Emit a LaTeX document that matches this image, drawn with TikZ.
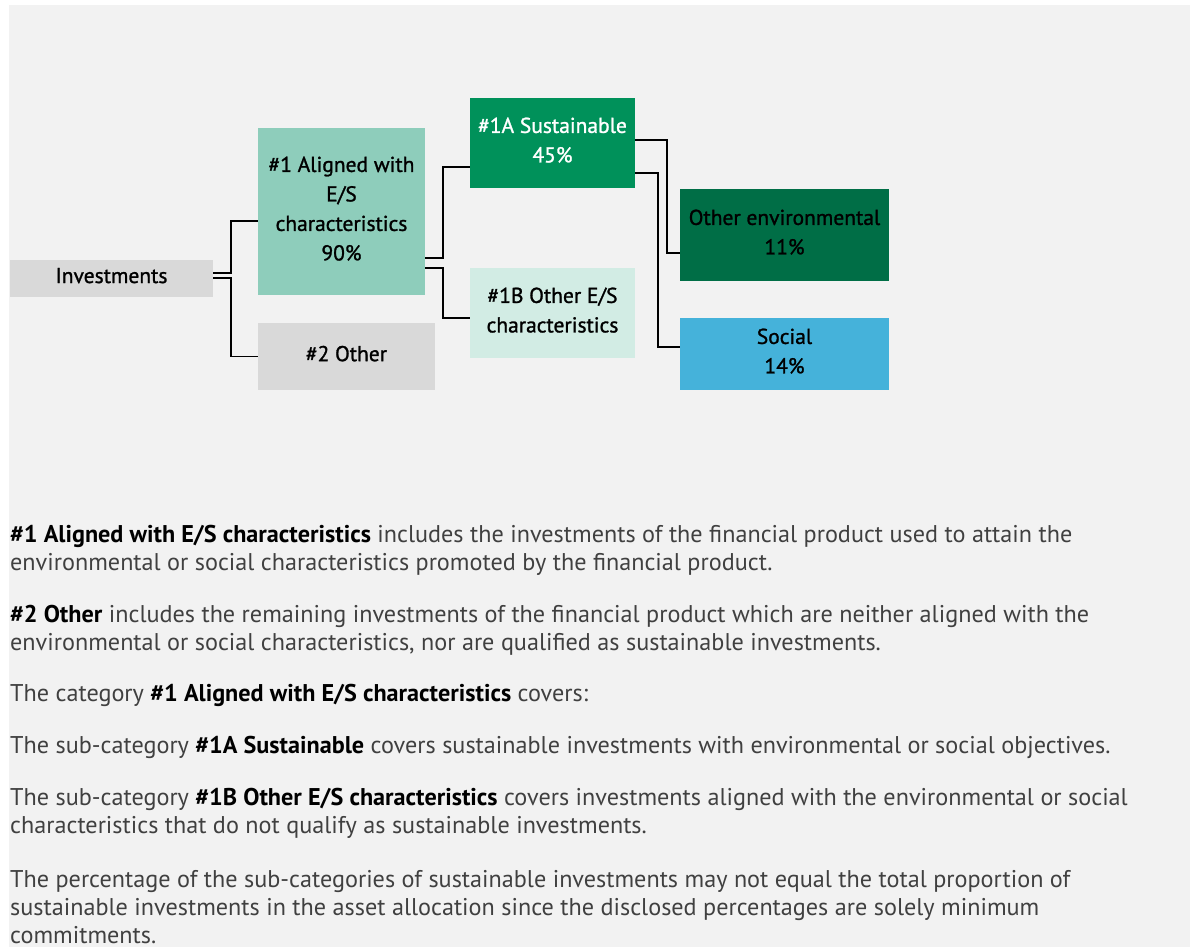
\documentclass[tikz,border=0pt]{standalone}
\usepackage{fontspec}
\setmainfont{PT Sans}
\newfontfamily\boxfont{PT Sans}[FakeBold=1.2]
\usetikzlibrary{positioning,calc}
\definecolor{panel}{RGB}{242,242,242}
\definecolor{greybox}{RGB}{217,217,217}
\definecolor{mint}{RGB}{142,205,187}
\definecolor{lightmint}{RGB}{210,236,228}
\definecolor{green}{RGB}{0,145,90}
\definecolor{darkgreen}{RGB}{0,110,70}
\definecolor{blue}{RGB}{69,178,218}
\definecolor{bodygrey}{RGB}{64,64,64}
\newcommand{\keyterm}[1]{\textcolor{black}{\bfseries #1}}

\begin{document}
\begin{tikzpicture}[x=1pt, y=-1pt, every node/.style={align=center},
  box/.style={inner sep=0pt, text depth=6pt, font=\boxfont\fontsize{21.5}{29.5}\selectfont},
  link/.style={draw=black, line width=1.8pt},
  para/.style={anchor=base west, align=left, inner sep=0pt, text=bodygrey, font=\fontsize{24.2}{28}\selectfont}]
\useasboundingbox (0,0) rectangle (1198,947);
\fill[panel] (8.7,4.7) rectangle (1190,947);
\node[box, fill=greybox, minimum width=203pt, minimum height=37pt] (inv) at (111.5,278.5) {Investments};
\node[box, fill=mint, minimum width=167pt, minimum height=167pt] (al) at (341.5,211.5) {\#1 Aligned with\\E/S\\characteristics\\90\%};
\node[box, fill=greybox, minimum width=177pt, minimum height=67pt] (oth) at (346.5,356.5) {\#2 Other};
\node[box, fill=green, text=white, minimum width=165pt, minimum height=90pt] (sus) at (552.5,143) {\#1A Sustainable\\45\%};
\node[box, fill=lightmint, minimum width=165pt, minimum height=90pt] (obe) at (552.5,313) {\#1B Other E/S\\characteristics};
\node[box, fill=darkgreen, minimum width=209pt, minimum height=92pt] (env) at (784.5,235) {Other environmental\\11\%};
\node[box, fill=blue, minimum width=209pt, minimum height=72pt] (soc) at (784.5,354) {Social\\14\%};
\draw[link] ([yshift=5.5pt]inv.east) -- ++(18,0) |- ([yshift=-9.5pt]al.west);
\draw[link] ([yshift=0.5pt]inv.east) -- ++(18,0) |- (oth.west);
\draw[link] ([yshift=-46.5pt]al.east) -- ++(18,0) |- ([yshift=-24pt]sus.west);
\draw[link] ([yshift=-56.5pt]al.east) -- ++(18,0) |- ([yshift=-5pt]obe.west);
\draw[link] ([yshift=3pt]sus.east) -- ++(32,0) |- ([yshift=-18pt]env.west);
\draw[link] ([yshift=-30pt]sus.east) -- ++(23,0) |- ([yshift=7pt]soc.west);
\node[para] (p1) at (10,570) {\keyterm{\#1 Aligned with E/S characteristics} includes the investments of the financial product used to attain the\\environmental or social characteristics promoted by the financial product.};
\node[para] (p2) at (10,650) {\keyterm{\#2 Other} includes the remaining investments of the financial product which are neither aligned with the\\environmental or social characteristics, nor are qualified as sustainable investments.};
\node[para] (p3) at (10,701) {The category \keyterm{\#1 Aligned with E/S characteristics} covers:};
\node[para] (p4) at (10,753) {The sub-category \keyterm{\#1A Sustainable} covers sustainable investments with environmental or social objectives.};
\node[para] (p5) at (10,833) {The sub-category \keyterm{\#1B Other E/S characteristics} covers investments aligned with the environmental or social\\characteristics that do not qualify as sustainable investments.};
\node[para] (p6) at (10,943) {The percentage of the sub-categories of sustainable investments may not equal the total proportion of\\sustainable investments in the asset allocation since the disclosed percentages are solely minimum\\commitments.};
\end{tikzpicture}
\end{document}
